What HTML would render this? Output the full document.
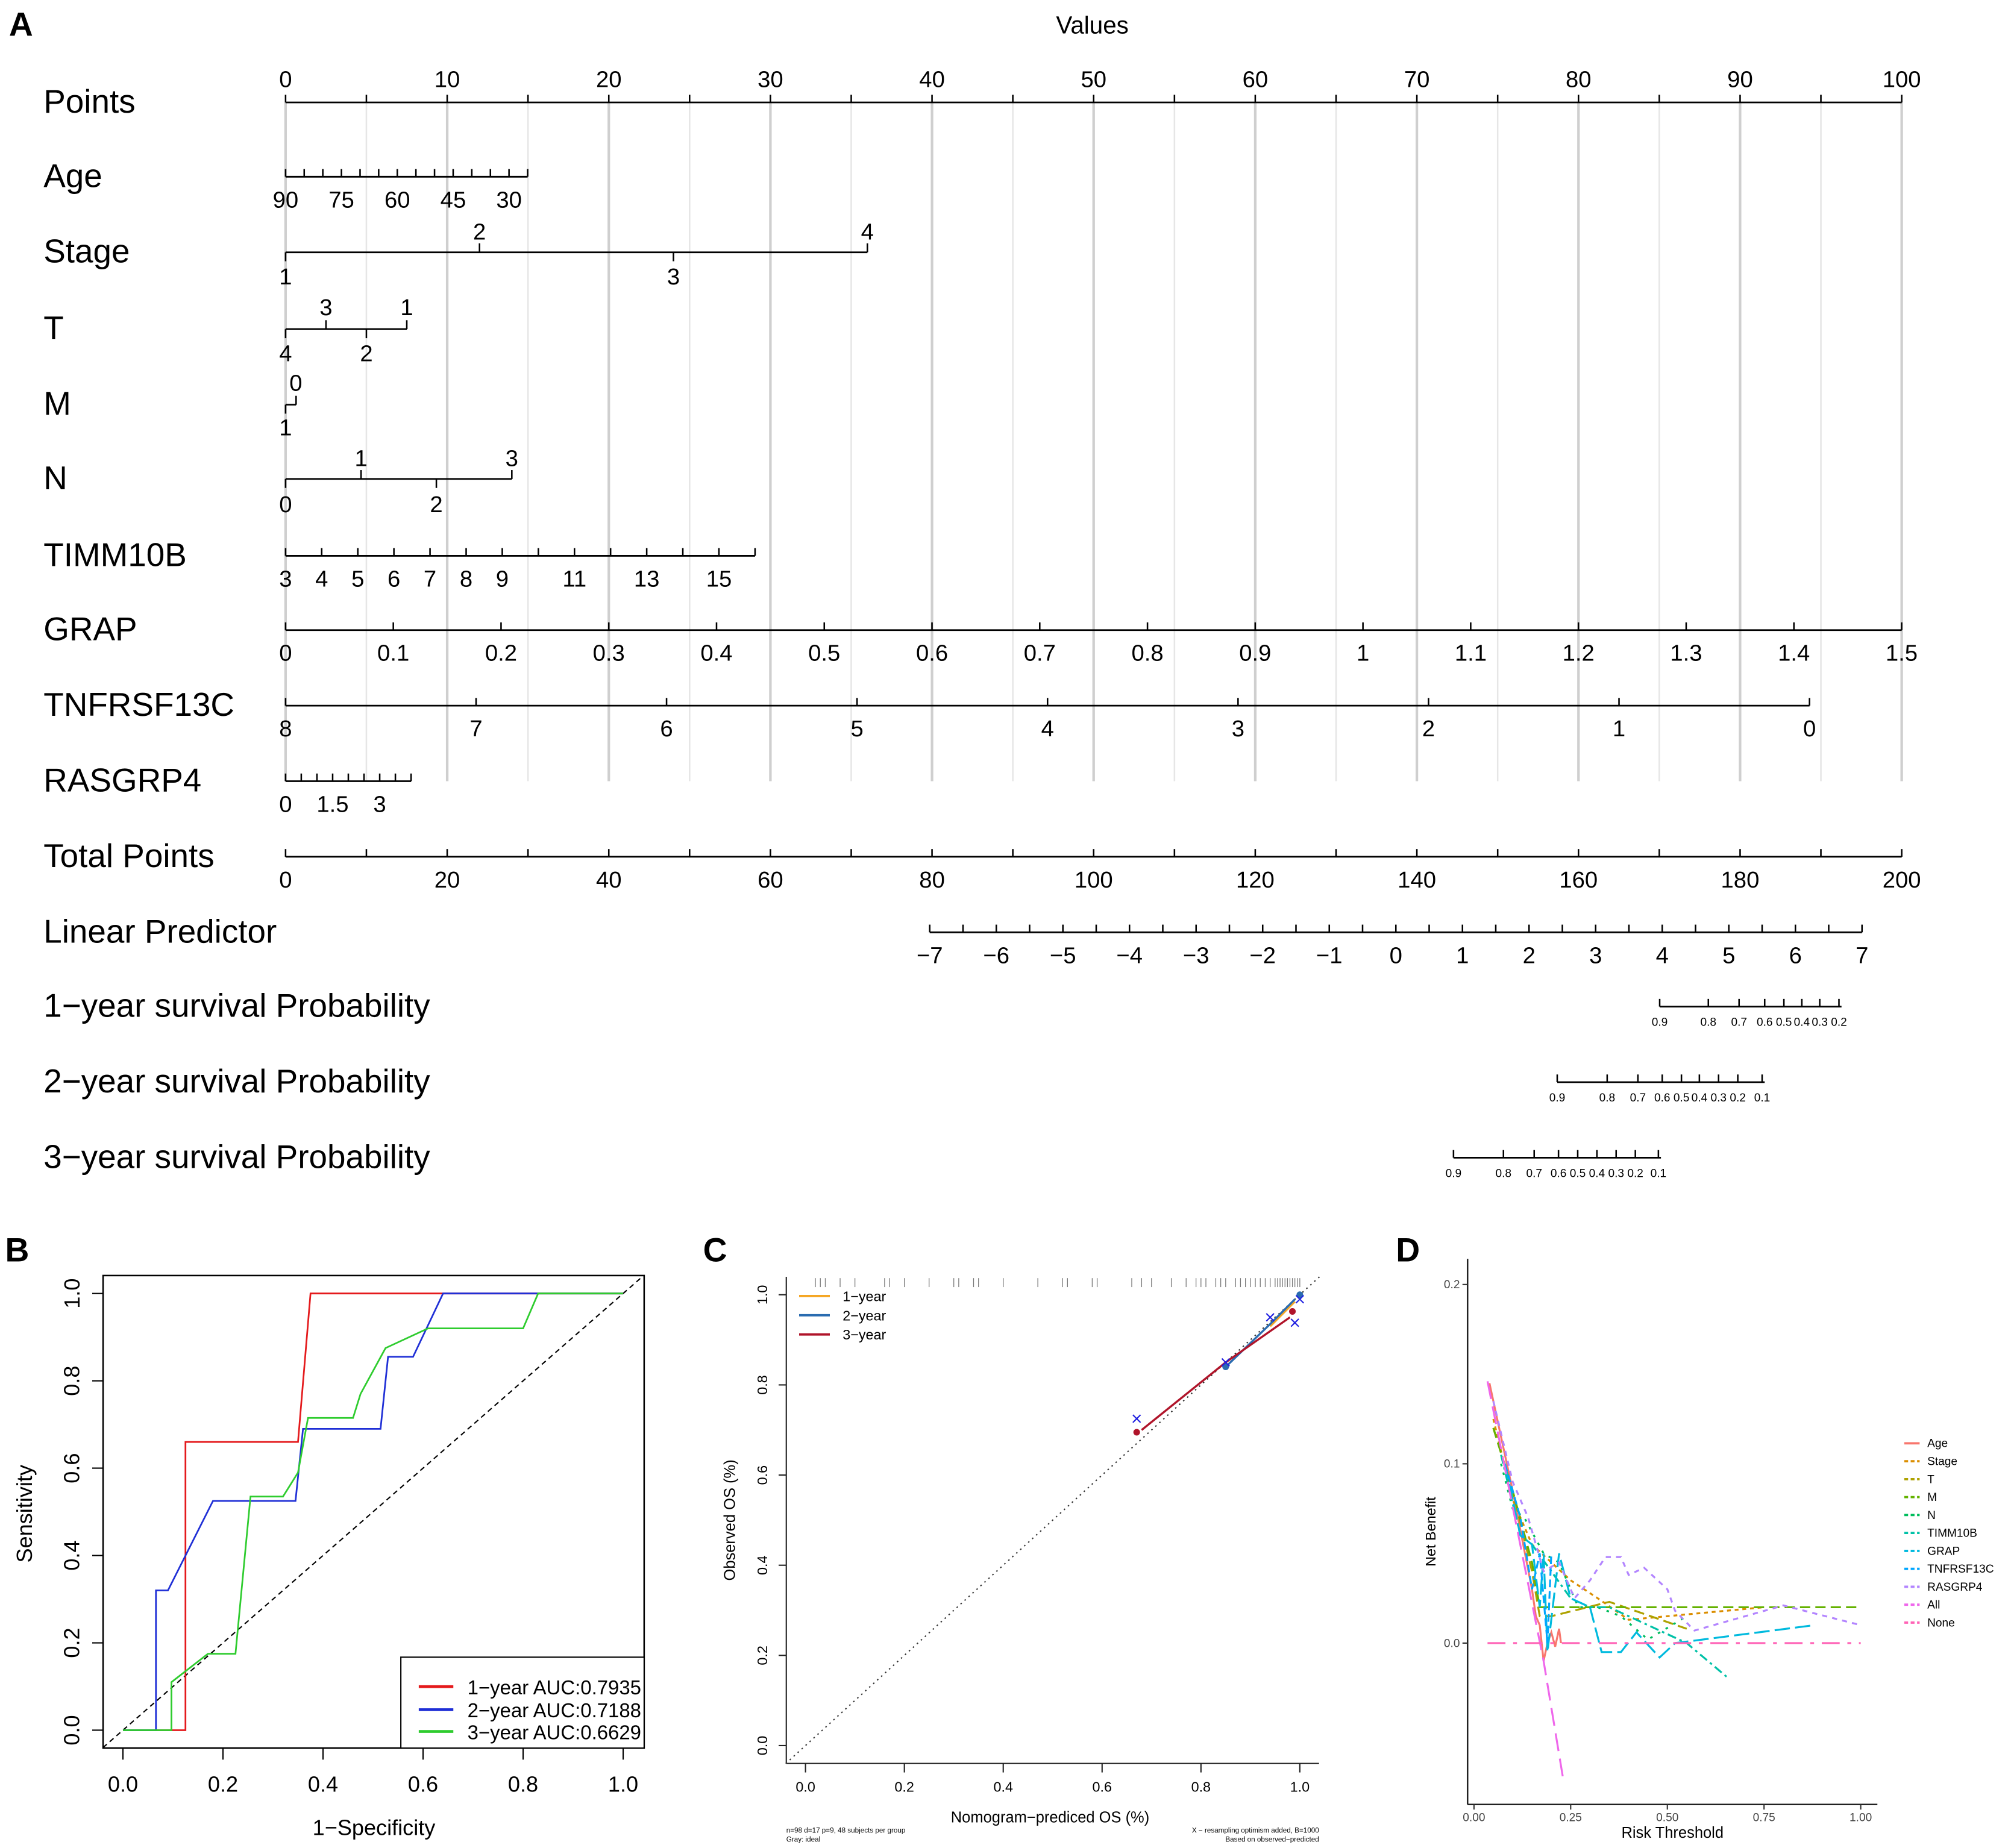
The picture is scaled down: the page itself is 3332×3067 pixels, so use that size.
<!DOCTYPE html>
<html><head><meta charset="utf-8"><style>
html,body{margin:0;padding:0;background:#fff}
svg{display:block}
text{font-family:"Liberation Sans",Arial,sans-serif}
</style></head><body>
<svg id="fig" width="3332" height="3067" viewBox="0 0 1568 1443" preserveAspectRatio="none" xmlns="http://www.w3.org/2000/svg">
<rect width="1568" height="1443" fill="#fff"/>
<g id="A"></g>
<g id="B"></g>
<g id="C"></g>
<g id="D"></g>
</svg>
<script>
// ===== Panel A data =====
const rowNames=["Points","Age","Stage","T","M","N","TIMM10B","GRAP","TNFRSF13C","RASGRP4","Total Points","Linear Predictor","1\u2212year survival Probability","2\u2212year survival Probability","3\u2212year survival Probability"];
const ageLabels=[90,75,60,45,30];
const ageTicks=[90,85,80,75,70,65,60,55,50,45,40,35,30,25];
const stagePts=[0,12,24,36];
const tVals=["4","3","2","1"];
const tPts=[0,2.5,5,7.5];
const nPts=[0,4.67,9.33,14];
const timmTicks=[3,4,5,6,7,8,9,10,11,12,13,14,15,16];
const timmLabels=[3,4,5,6,7,8,9,11,13,15];
const grapTicks=[0,0.1,0.2,0.3,0.4,0.5,0.6,0.7,0.8,0.9,1,1.1,1.2,1.3,1.4,1.5];
const tnfTicks=[8,7,6,5,4,3,2,1,0];
const rasTicks=[0,0.5,1,1.5,2,2.5,3,3.5,4];
const rasLabels=[0,1.5,3];
const lpTicks=[-7,-6,-5,-4,-3,-2,-1,0,1,2,3,4,5,6,7];
const prob1=[0.9,0.8,0.7,0.6,0.5,0.4,0.3,0.2];
const prob1X=[1296,1334,1358,1378,1393,1407,1421,1436];
const prob2=[0.9,0.8,0.7,0.6,0.5,0.4,0.3,0.2,0.1];
const prob2X=[1216,1255,1279,1298,1313,1327,1342,1357,1376];
const prob3=[0.9,0.8,0.7,0.6,0.5,0.4,0.3,0.2,0.1];
const prob3X=[1135,1174,1198,1217,1232,1247,1262,1277,1295];

// ===== Panel B data =====
const rocNames=["1\u2212year AUC:0.7935","2\u2212year AUC:0.7188","3\u2212year AUC:0.6629"];
const rocColors=["#e41a1c","#1f2fd6","#2ecc2e"];
const roc1x=[0,0.125,0.125,0.35,0.375,1];
const roc1y=[0,0,0.66,0.66,1,1];
const roc2x=[0,0.066,0.066,0.09,0.18,0.345,0.36,0.515,0.53,0.58,0.64,1];
const roc2y=[0,0,0.32,0.32,0.525,0.525,0.69,0.69,0.855,0.855,1,1];
const roc3x=[0,0.097,0.097,0.17,0.225,0.255,0.32,0.35,0.37,0.46,0.475,0.525,0.61,0.80,0.83,1];
const roc3y=[0,0,0.11,0.175,0.175,0.535,0.535,0.59,0.715,0.715,0.77,0.875,0.92,0.92,1,1];
const unitTicks=[0,0.2,0.4,0.6,0.8,1.0];

// ===== Panel C data =====
const rug=[0.02,0.03,0.04,0.07,0.1,0.16,0.17,0.2,0.25,0.3,0.31,0.34,0.35,0.4,0.47,0.52,0.53,0.58,0.59,0.66,0.68,0.7,0.74,0.77,0.79,0.8,0.81,0.83,0.84,0.85,0.87,0.88,0.89,0.9,0.91,0.92,0.93,0.94,0.95,0.955,0.96,0.965,0.97,0.975,0.98,0.985,0.99,0.995,1.0];
const cal1x=[0.94,0.99];const cal1y=[0.93,0.985];
const cal2x=[0.85,0.94,0.99];const cal2y=[0.84,0.935,0.99];
const cal3x=[0.68,0.85,0.98];const cal3y=[0.70,0.85,0.95];
const dot3x=[0.67,0.985];const dot3y=[0.695,0.963];
const dot2x=[0.85,1.0];const dot2y=[0.84,1.0];
const crossX=[0.67,0.85,0.94,0.99,1.0];const crossY=[0.725,0.85,0.95,0.938,0.99];

// ===== Panel D data =====
const dcaNames=["Age","Stage","T","M","N","TIMM10B","GRAP","TNFRSF13C","RASGRP4","All","None"];
const dcaColors=["#F8766D","#DB8E00","#AEA200","#64B200","#00BD5C","#00C1A7","#00BADE","#00A6FF","#B385FF","#EF67EB","#FF63B6"];
const dcaDash=["","3,3","8,4","8,4","2,5","7,3,2,3","12,4","6,3","4,4","14,6","14,6,3,6"];
const dAgeX=[0.04,0.1,0.15,0.16,0.17,0.18,0.19,0.2,0.21,0.22,0.225];
const dAgeY=[0.145,0.085,0.03,0.015,0.01,-0.01,0,0.006,-0.002,0.008,0];
const dStageX=[0.05,0.1,0.15,0.25,0.32,0.4,0.5,0.75];
const dStageY=[0.125,0.08,0.055,0.035,0.025,0.013,0.015,0.02];
const dTX=[0.05,0.1,0.15,0.17,0.2,0.35,0.55];
const dTY=[0.12,0.085,0.04,0.015,0.015,0.023,0.008];
const dMX=[0.05,0.1,0.15,0.17,1.0];
const dMY=[0.12,0.085,0.045,0.02,0.02];
const dNX=[0.07,0.1,0.13,0.18,0.22,0.27,0.32,0.38,0.45,0.55];
const dNY=[0.1,0.075,0.07,0.05,0.045,0.02,0.02,0.015,0.002,0.015];
const dTimX=[0.07,0.12,0.15,0.2,0.25,0.3,0.35,0.45,0.55,0.66];
const dTimY=[0.105,0.06,0.055,0.04,0.025,0.02,0.02,0.01,0,-0.02];
const dGrapX=[0.08,0.12,0.15,0.17,0.18,0.19,0.22,0.25,0.3,0.33,0.38,0.42,0.48,0.52,0.88];
const dGrapY=[0.1,0.06,0.055,0.02,0.05,-0.005,0.05,0.025,0.02,-0.005,-0.005,0.006,-0.008,0,0.01];
const dTnfX=[0.08,0.12,0.15,0.17,0.19,0.2];
const dTnfY=[0.1,0.07,0.03,0.05,0,0.05];
const dRasX=[0.05,0.1,0.14,0.18,0.22,0.26,0.3,0.34,0.38,0.4,0.44,0.5,0.52,0.57,0.8,1.0];
const dRasY=[0.135,0.09,0.07,0.04,0.045,0.025,0.035,0.048,0.048,0.038,0.042,0.03,0.018,0.007,0.021,0.01];
const dAllX=[0.035,0.18,0.23];const dAllY=[0.146,-0.01,-0.075];
const dNoneX=[0.035,1.0];const dNoneY=[0,0];
const dcaXs=[dAgeX,dStageX,dTX,dMX,dNX,dTimX,dGrapX,dTnfX,dRasX,dAllX,dNoneX];
const dcaYs=[dAgeY,dStageY,dTY,dMY,dNY,dTimY,dGrapY,dTnfY,dRasY,dAllY,dNoneY];
const dXTicks=[0,0.25,0.5,0.75,1.0];
const dXLabels=["0.00","0.25","0.50","0.75","1.00"];
const dYTicks=[0,0.1,0.2];
const dYLabels=["0.0","0.1","0.2"];

const NS="http://www.w3.org/2000/svg";
function mk(parent,tag,attrs,txt){const e=document.createElementNS(NS,tag);for(const k in attrs)e.setAttribute(k,attrs[k]);if(txt!==undefined)e.textContent=txt;parent.appendChild(e);return e;}
function line(p,x1,y1,x2,y2,st,w,dash){return mk(p,'line',{x1,y1,x2,y2,stroke:st||'#000','stroke-width':w||1,'stroke-dasharray':dash||'none'});}
function txt(p,x,y,s,size,anchor,extra){const a=Object.assign({x,y,'font-size':size,'text-anchor':anchor||'middle',fill:'#000'},extra||{});return mk(p,'text',a,s);}

// ===== Panel A =====
const A=document.getElementById('A');
const px=p=>223+p*12.62;
const rowY=[80,138,197,257,316,374,434,492,551,610,669,728,786,845,904];
const lab=txt(A,7,28,"A",26,'start',{'font-weight':'bold'});


const vt=txt(A,853,26,"Values",19);


for(let p=0;p<=100;p+=5){const l=line(A,px(p),80,px(p),610,p%10===0?'#cfcfcf':'#e6e6e6',p%10===0?2:1.2);

}
rowNames.forEach((n,i)=>{const t=txt(A,34,rowY[i]+8,n,25.8,'start');

});
function axis(y,xs,x0,x1,labels,labelXs,below,size,tickLen){
  const g=mk(A,'g',{});
  line(g,x0,y,x1,y,'#000',1.3);
  xs.forEach(x=>line(g,x,y,x,below===false?y+(tickLen||6):y-(tickLen||6),'#000',1.2));
  labels.forEach((s,i)=>txt(g,labelXs[i],below===false?y-8:y+(size>12?24:12),s,size||18));
  return g;
}
let g=axis(80,[...Array(21).keys()].map(i=>px(i*5)),223,1485,[0,10,20,30,40,50,60,70,80,90,100],[0,10,20,30,40,50,60,70,80,90,100].map(px),false,18,6);
g.querySelectorAll('line').forEach((l,i)=>{if(i>0){l.setAttribute('y2',74)}});

g.querySelectorAll('text').forEach(t=>t.setAttribute('y',68));
const ageX=a=>223+(90-a)*2.908;
g=axis(138,ageTicks.map(ageX),223,ageX(25),ageLabels.map(String),ageLabels.map(ageX),true,18);

function catAxis(name,y,pts,above){
  const g=mk(A,'g',{});
  
  
  line(g,px(pts[0]),y,px(pts[pts.length-1]),y,'#000',1.3);
  pts.forEach((p,i)=>{const up=above.includes(i);line(g,px(p),y,px(p),up?y-7:y+7,'#000',1.2);});
  return g;
}
g=catAxis('stage-axis',197,stagePts,[1,3]);
txt(g,px(12),187,"2",18);txt(g,px(36),187,"4",18);txt(g,px(0),222,"1",18);txt(g,px(24),222,"3",18);
g=catAxis('t-axis',257,tPts,[1,3]);
txt(g,px(2.5),246,"3",18);txt(g,px(7.5),246,"1",18);txt(g,px(0),282,"4",18);txt(g,px(5),282,"2",18);
g=catAxis('m-axis',316,[0,0.65],[1]);
txt(g,231,305,"0",18);txt(g,223,340,"1",18);
g=catAxis('n-axis',374,nPts,[1,3]);
txt(g,px(4.67),364,"1",18);txt(g,px(14),364,"3",18);txt(g,px(0),400,"0",18);txt(g,px(9.33),400,"2",18);
const timX=v=>223+(v-3)*28.2;
g=axis(434,timmTicks.map(timX),223,timX(16),timmLabels.map(String),timmLabels.map(timX),true,18);

const grX=v=>223+v*841.3;
g=axis(492,grapTicks.map(grX),223,1485,grapTicks.map(String),grapTicks.map(grX),true,18);

const tnX=v=>223+(8-v)*148.75;
g=axis(551,tnfTicks.map(tnX),223,1413,tnfTicks.map(String),tnfTicks.map(tnX),true,18);

const raX=v=>223+v*24.5;
g=axis(610,rasTicks.map(raX),223,raX(4),rasLabels.map(String),rasLabels.map(raX),true,18);

const tpX=v=>223+v*6.31;
const tpT=[];for(let v=0;v<=200;v+=10)tpT.push(v);
const tpL=[0,20,40,60,80,100,120,140,160,180,200];
g=axis(669,tpT.map(tpX),223,1485,tpL.map(String),tpL.map(tpX),true,18);

const lpX=v=>1090+v*52;
const lpT=[];for(let v=-7;v<=7;v+=0.5)lpT.push(v);
g=axis(728,lpT.map(lpX),lpX(-7),lpX(7),lpTicks.map(v=>v<0?"\u2212"+(-v):String(v)),lpTicks.map(lpX),true,18);

[[786,prob1,prob1X,'1-year-probability-axis'],[845,prob2,prob2X,'2-year-probability-axis'],[904,prob3,prob3X,'3-year-probability-axis']].forEach(([y,vals,xs,nm])=>{
  const gg=axis(y,xs,xs[0],xs[xs.length-1]+2,vals.map(String),xs,true,9);
  gg.querySelectorAll('text').forEach(t=>t.setAttribute('y',y+15));
  
});

// ===== Panel B =====
const B=document.getElementById('B');
const bx=v=>96+v*390.6, by=v=>1351-v*341;
txt(B,4,985,"B",26,'start',{'font-weight':'bold'});
mk(B,'rect',{x:80.5,y:996,width:422.5,height:369,fill:'none',stroke:'#000','stroke-width':1.2});
line(B,bx(-0.04),by(-0.04),bx(1.04),by(1.04),'#000',1,'4,3');
[[roc1x,roc1y],[roc2x,roc2y],[roc3x,roc3y]].forEach(([xs,ys],k)=>{
  const pl=mk(B,'polyline',{points:xs.map((x,i)=>bx(x)+','+by(ys[i])).join(' '),fill:'none',stroke:rocColors[k],'stroke-width':1.3});
  
  
});
unitTicks.forEach(v=>{line(B,bx(v),1365,bx(v),1374,'#000',1);txt(B,bx(v),1399,v.toFixed(1),17);
  line(B,80.5,by(v),72,by(v),'#000',1);txt(B,62,by(v),v.toFixed(1),17,'middle',{transform:`rotate(-90 62 ${by(v)})`});});
txt(B,292,1433,"1\u2212Specificity",17);
txt(B,25,1182,"Sensitivity",17,'middle',{transform:'rotate(-90 25 1182)'});
const lg=mk(B,'g',{});


mk(lg,'rect',{x:313,y:1294,width:190,height:71,fill:'#fff',stroke:'#000','stroke-width':1});
[1317,1335,1352].forEach((y,i)=>{line(lg,327,y,354,y,rocColors[i],2.2);txt(lg,365,y+6,rocNames[i],15.5,'start');});

// ===== Panel C =====
const C=document.getElementById('C');
const cx=v=>629+v*386, cy=v=>1363-v*352;
txt(C,549,985,"C",26,'start',{'font-weight':'bold'});
line(C,614,997,614,1377,'#222',1);line(C,614,1377,1030,1377,'#222',1);
line(C,cx(-0.04),cy(-0.04),cx(1.04),cy(1.04),'#333',1,'1.2,3');
rug.forEach(v=>{const r=line(C,cx(v),998,cx(v),1005,'#777',0.6);

});
unitTicks.forEach(v=>{line(C,cx(v),1377,cx(v),1384,'#222',1);txt(C,cx(v),1399,v.toFixed(1),11);
  line(C,614,cy(v),608,cy(v),'#222',1);txt(C,599,cy(v),v.toFixed(1),11,'middle',{transform:`rotate(-90 599 ${cy(v)})`});});
txt(C,820,1423,"Nomogram\u2212prediced OS (%)",12);
txt(C,574,1187,"Observed OS (%)",12,'middle',{transform:'rotate(-90 574 1187)'});
txt(C,614,1431,"n=98 d=17 p=9, 48 subjects per group",5.5,'start');
txt(C,614,1438,"Gray: ideal",5.5,'start');
txt(C,1030,1431,"X \u2212 resampling optimism added, B=1000",5.5,'end');
txt(C,1030,1438,"Based on observed\u2212predicted",5.5,'end');
const calCols=["#f5a623","#2a6cb0","#b0142a"];
[[cal1x,cal1y],[cal2x,cal2y],[cal3x,cal3y]].forEach(([xs,ys],k)=>{
  const pl=mk(C,'polyline',{points:xs.map((x,i)=>cx(x)+','+cy(ys[i])).join(' '),fill:'none',stroke:calCols[k],'stroke-width':1.6});
  
  
});
dot3x.forEach((x,i)=>mk(C,'circle',{cx:cx(x),cy:cy(dot3y[i]),r:2.6,fill:'#b0142a'}));
dot2x.forEach((x,i)=>mk(C,'circle',{cx:cx(x),cy:cy(dot2y[i]),r:2.6,fill:'#2a6cb0'}));
crossX.forEach((x,i)=>{const X=cx(x),Y=cy(crossY[i]);line(C,X-3,Y-3,X+3,Y+3,'#1f1fe0',1);line(C,X-3,Y+3,X+3,Y-3,'#1f1fe0',1);});
const cl=mk(C,'g',{});


["1\u2212year","2\u2212year","3\u2212year"].forEach((s,i)=>{const y=1012+i*15;line(cl,624,y,648,y,calCols[i],1.8);txt(cl,658,y+4,s,11,'start');});

// ===== Panel D =====
const D=document.getElementById('D');
const dx=v=>1151+v*302, dy=v=>1283-v*1400;
txt(D,1090,985,"D",26,'start',{'font-weight':'bold'});
line(D,1146,983,1146,1409,'#222',1.2);line(D,1146,1409,1466,1409,'#222',1.2);
dXTicks.forEach((v,i)=>{line(D,dx(v),1409,dx(v),1413,'#333',1);txt(D,dx(v),1422,dXLabels[i],9,'middle',{fill:'#444'});});
dYTicks.forEach((v,i)=>{line(D,1146,dy(v),1142,dy(v),'#333',1);txt(D,1140,dy(v)+3,dYLabels[i],9,'end',{fill:'#444'});});
txt(D,1306,1435,"Risk Threshold",12);
txt(D,1121,1196,"Net Benefit",11,'middle',{transform:'rotate(-90 1121 1196)'});
dcaXs.forEach((xs,k)=>{
  const pl=mk(D,'polyline',{points:xs.map((x,i)=>dx(x)+','+dy(dcaYs[k][i])).join(' '),fill:'none',stroke:dcaColors[k],'stroke-width':1.5,'stroke-dasharray':dcaDash[k]||'none'});
  
  
});
const dl=mk(D,'g',{});


dcaNames.forEach((n,i)=>{const y=1127+i*14;line(dl,1487,y,1499,y,dcaColors[i],1.8,dcaDash[i]?'3,2':'none');txt(dl,1505,y+3,n,9,'start');});
</script>
</body></html>
